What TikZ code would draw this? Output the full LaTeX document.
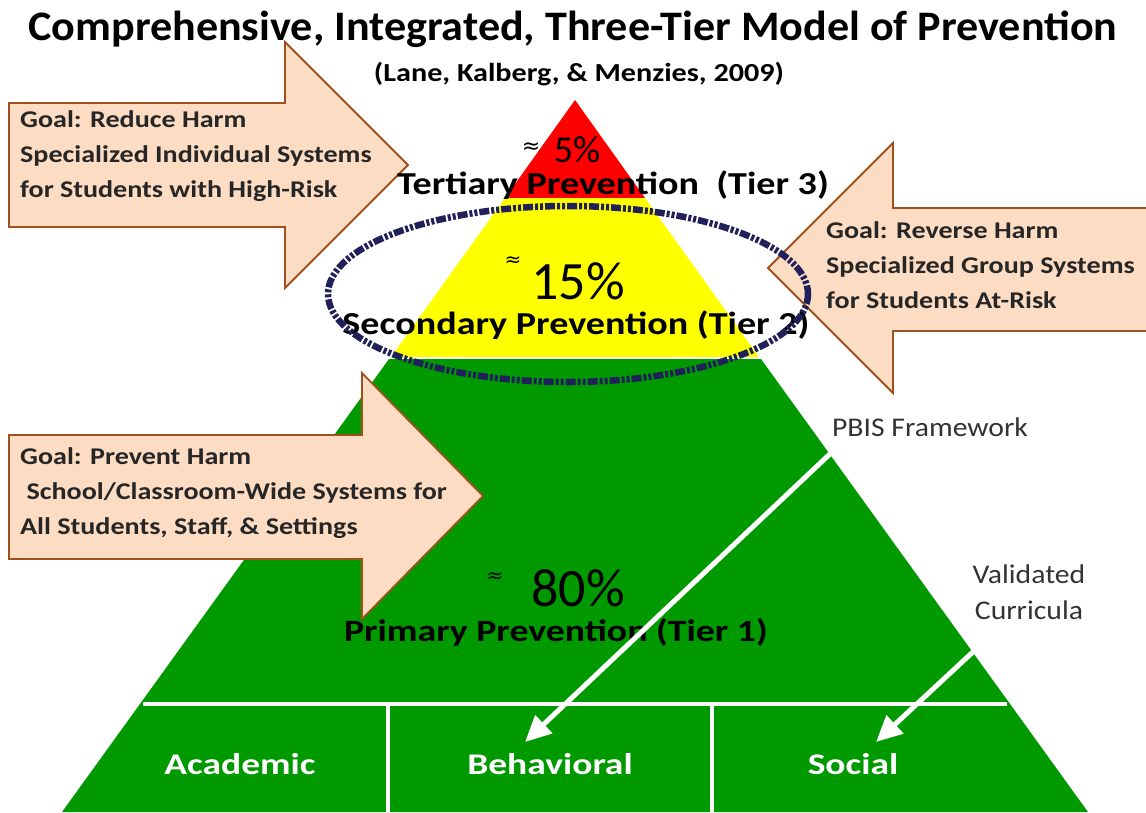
\documentclass[tikz,border=0pt]{standalone}
\usepackage{fontspec}
\setmainfont{Carlito}
\newfontfamily\symfont{DejaVu Sans}
\newfontfamily\titlefont[FakeStretch=1.05]{Carlito}
\newfontfamily\subfont[FakeStretch=1.16]{Carlito}
\newfontfamily\goalfont[FakeStretch=1.17]{Carlito}
\newfontfamily\tierfont[FakeStretch=1.19]{Carlito}
\newfontfamily\primfont[FakeStretch=1.22]{Carlito}
\newfontfamily\domfont[FakeStretch=1.25]{Carlito}
\newfontfamily\sidefont[FakeStretch=1.1]{Carlito}
\usetikzlibrary{arrows.meta}
\definecolor{peach}{RGB}{252,220,194}
\definecolor{peachline}{RGB}{160,80,30}
\definecolor{pgreen}{RGB}{0,153,0}
\definecolor{pred}{RGB}{255,0,0}
\definecolor{pyellow}{RGB}{255,255,0}
\definecolor{navy}{RGB}{32,32,90}
\tikzset{
  blockarrow/.style={fill=peach,draw=peachline,line width=1.8pt,line join=miter},
  goaltext/.style={anchor=west,align=left,inner sep=0pt,text=black!85,font=\goalfont\bfseries\fontsize{24}{35}\selectfont},
  tiertext/.style={inner sep=0pt,font=\tierfont\bfseries\fontsize{32}{36}\selectfont},
  pcttext/.style={inner sep=0pt,font=\fontsize{54}{60}\selectfont},
  sidetext/.style={inner sep=0pt,align=center,text=black!80,font=\sidefont\fontsize{27}{36}\selectfont},
  domaintext/.style={inner sep=0pt,text=white,font=\domfont\bfseries\fontsize{30}{36}\selectfont},
  whitearrow/.style={white,line width=5pt,-{Triangle[length=26pt,width=24pt]}},
  divider/.style={white,line width=3.5pt},
}
\begin{document}
\begin{tikzpicture}[x=1pt,y=-1pt]
\useasboundingbox (0,0) rectangle (1146,812);
% pyramid
\coordinate (apex) at (575,100);
\fill[pred] (apex) -- (645,198) -- (505,198) -- cycle;
\fill[pyellow] (505,198) -- (645,198) -- (759,357) -- (391,357) -- cycle;
\fill[pgreen] (389,359) -- (761,359) -- (1088,812) -- (62,812) -- cycle;
% dividers
\draw[divider] (143,704) -- (1007,704);
\draw[divider] (388,704) -- (388,812);
\draw[divider] (712,704) -- (712,812);

% title
\node[inner sep=0pt,font=\titlefont\bfseries\fontsize{42}{46}\selectfont] (title) at (573,29) {Comprehensive, Integrated, Three-Tier Model of Prevention};
\node[inner sep=0pt,font=\subfont\bfseries\fontsize{26}{30}\selectfont] (sub) at (579,74) {(Lane, Kalberg, \& Menzies, 2009)};

% block arrows
\draw[blockarrow] (9,103) -- (285,103) -- (285,42) -- (408,165) -- (285,288) -- (285,227) -- (9,227) -- cycle;
\draw[blockarrow] (1160,208) -- (893,208) -- (893,143) -- (768,268) -- (893,393) -- (893,331) -- (1160,331) -- cycle;
\draw[blockarrow] (9,435) -- (362,435) -- (362,373) -- (483,496) -- (362,619) -- (362,559) -- (9,559) -- cycle;

\node[goaltext] (g1) at (20,156) {Goal: Reduce Harm\\Specialized Individual Systems\\for Students with High-Risk};
\node[goaltext] (g2) at (826,265) {Goal: Reverse Harm\\Specialized Group Systems\\for Students At-Risk};
\node[goaltext] (g3) at (20,493) {Goal: Prevent Harm\\\ School/Classroom-Wide Systems for\\All Students, Staff, \& Settings};

% tier texts
\node[inner sep=0pt,font=\symfont\fontsize{22}{24}\selectfont] (ap5) at (531,148) {≈};
\node[inner sep=0pt,anchor=base,font=\fontsize{38}{40}\selectfont] (p5) at (577,162) {5\%};
\node[tiertext,anchor=base] (t3) at (613,194) {Tertiary Prevention\ \ (Tier 3)};
\node[inner sep=0pt,font=\symfont\fontsize{20}{24}\selectfont] (ap15) at (513,262) {≈};
\node[pcttext] (p15) at (578,281) {15\%};
\node[tiertext] (t2) at (576,325) {Secondary Prevention (Tier 2)};
\node[inner sep=0pt,font=\symfont\fontsize{20}{24}\selectfont] (ap80) at (495,578) {≈};
\node[pcttext] (p80) at (578,588) {80\%};
\node[inner sep=0pt,font=\primfont\bfseries\fontsize{31}{34}\selectfont] (t1) at (556,632) {Primary Prevention (Tier 1)};

% side labels
\node[sidetext] (pbis) at (930,427) {PBIS Framework};
\node[sidetext] (valid) at (1029,592) {Validated\\Curricula};

% domains
\node[domaintext] (acad) at (240,764) {Academic};
\node[domaintext] (behav) at (550,764) {Behavioral};
\node[domaintext] (soc) at (853,764) {Social};

% white arrows
\coordinate (pbisfoot) at (832,452);
\coordinate (validfoot) at (975,650);
\coordinate (behavtop) at (525,742);
\coordinate (soctop) at (876,742);
\draw[whitearrow] (pbisfoot) -- (behavtop);
\draw[whitearrow] (validfoot) -- (soctop);

% ellipse
\draw[navy,line width=6.5pt,dash pattern=on 10pt off 2pt on 3pt off 2pt on 3pt off 2pt] (568,294) ellipse [x radius=240,y radius=88];
\end{tikzpicture}
\end{document}
